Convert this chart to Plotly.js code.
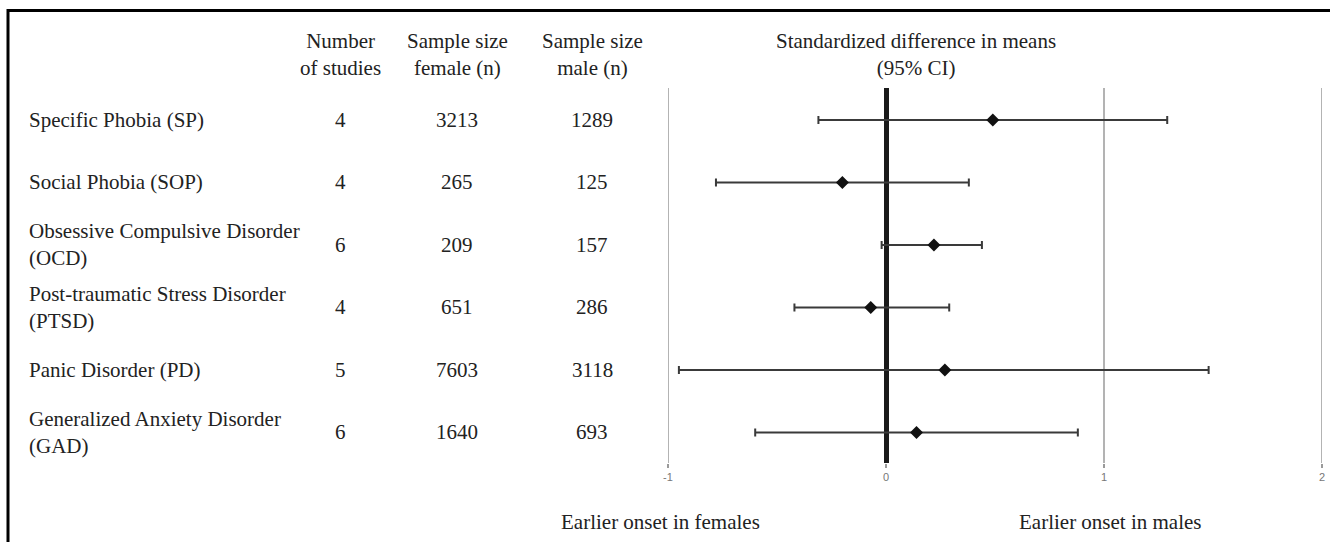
<!DOCTYPE html>
<html>
<head>
<meta charset="utf-8">
<script src="https://cdn.plot.ly/plotly-3.0.1.min.js"></script>
<style>
html,body{margin:0;padding:0;background:#fff;}
#chart{width:1330px;height:542px;}
</style>
</head>
<body>
<div id="chart"></div>
<script>
// ---- data ----
const disorders = [
  "Specific Phobia (SP)",
  "Social Phobia (SOP)",
  "Obsessive Compulsive Disorder<br>(OCD)",
  "Post-traumatic Stress Disorder<br>(PTSD)",
  "Panic Disorder (PD)",
  "Generalized Anxiety Disorder<br>(GAD)"
];
const numStudies = [4, 4, 6, 4, 5, 6];
const nFemale = [3213, 265, 209, 651, 7603, 1640];
const nMale = [1289, 125, 157, 286, 3118, 693];
const smd = [0.49, -0.20, 0.22, -0.07, 0.27, 0.14];
const ciLow = [-0.31, -0.78, -0.02, -0.42, -0.95, -0.60];
const ciHigh = [1.29, 0.38, 0.44, 0.29, 1.48, 0.88];
const tickVals = [-1, 0, 1, 2];
const tickLabels = ["-1", "0", "1", "2"];
const headers = ["Number<br>of studies", "Sample size<br>female (n)", "Sample size<br>male (n)", "Standardized difference in means<br>(95% CI)"];
const footLabels = ["Earlier onset in females", "Earlier onset in males"];

// ---- layout helpers ----
const W = 1330, H = 542;
const px = v => v / W;
const py = v => 1 - v / H;
const serif = "Liberation Serif, Times New Roman, serif";
const txtSize = 21;
const txtColor = "#222";
const rows = disorders.map((d, i) => i);

const trace = {
  type: "scatter",
  mode: "markers",
  x: smd,
  y: rows,
  marker: {symbol: "diamond", size: 10, color: "#111"},
  error_x: {
    type: "data",
    symmetric: false,
    array: smd.map((m, i) => ciHigh[i] - m),
    arrayminus: smd.map((m, i) => m - ciLow[i]),
    color: "#3a3a3a",
    thickness: 2,
    width: 4
  },
  hoverinfo: "skip",
  showlegend: false,
  cliponaxis: false
};

const annotations = [];
const colX = [340, 457, 592];
const colData = [numStudies, nFemale, nMale];
rows.forEach(i => {
  annotations.push({xref: "paper", yref: "y", x: px(27), y: i, text: disorders[i],
    xanchor: "left", yanchor: "middle", align: "left", showarrow: false,
    font: {family: serif, size: txtSize, color: txtColor}});
  colData.forEach((arr, c) => {
    annotations.push({xref: "paper", yref: "y", x: px(colX[c]), y: i, text: String(arr[i]),
      xanchor: "center", yanchor: "middle", showarrow: false,
      font: {family: serif, size: txtSize, color: txtColor}});
  });
});
const headX = [340, 457, 592, 916];
headers.forEach((h, k) => {
  annotations.push({xref: "paper", yref: "paper", x: px(headX[k]), y: py(55), text: h,
    xanchor: "center", yanchor: "middle", align: "center", showarrow: false,
    font: {family: serif, size: txtSize, color: txtColor}});
});
const footX = [660, 1110];
footLabels.forEach((f, k) => {
  annotations.push({xref: "paper", yref: "paper", x: px(footX[k]), y: py(522), text: f,
    xanchor: "center", yanchor: "middle", showarrow: false,
    font: {family: serif, size: txtSize, color: txtColor}});
});

// vertical reference lines at every non-zero tick (the zero line is drawn by the axis)
const gridShapes = tickVals.filter(v => v !== 0).map(v => ({
  type: "line", xref: "x", yref: "y domain", x0: v, x1: v, y0: 0, y1: 1,
  line: {color: "#9a9a9a", width: 1.5}, layer: "below"
}));

const layout = {
  width: W, height: H,
  margin: {l: 0, r: 0, t: 0, b: 0},
  paper_bgcolor: "#fff",
  plot_bgcolor: "rgba(0,0,0,0)",
  showlegend: false,
  xaxis: {
    domain: [px(668), px(1322)],
    range: [-1, 2],
    tickvals: tickVals,
    ticktext: tickLabels,
    showgrid: false,
    zeroline: true,
    zerolinecolor: "#1a1a1a",
    zerolinewidth: 5,
    showline: false,
    ticks: "outside",
    ticklen: 4,
    tickcolor: "#9a9a9a",
    tickwidth: 1.5,
    tickfont: {family: "Liberation Sans, Arial, sans-serif", size: 11, color: "#777"},
    fixedrange: true
  },
  yaxis: {
    domain: [py(463), py(88)],
    range: [5.49, -0.51],
    showgrid: false,
    zeroline: false,
    showticklabels: false,
    showline: false,
    ticks: "",
    fixedrange: true
  },
  shapes: gridShapes.concat([
    {type: "line", xref: "paper", yref: "paper", x0: px(8), x1: 1, y0: py(10.5), y1: py(10.5),
      line: {color: "#000", width: 3}},
    {type: "line", xref: "paper", yref: "paper", x0: px(8), x1: px(8), y0: py(9), y1: 0,
      line: {color: "#000", width: 3}}
  ]),
  annotations: annotations
};

Plotly.newPlot("chart", [trace], layout, {displayModeBar: false, staticPlot: true});
</script>
</body>
</html>
